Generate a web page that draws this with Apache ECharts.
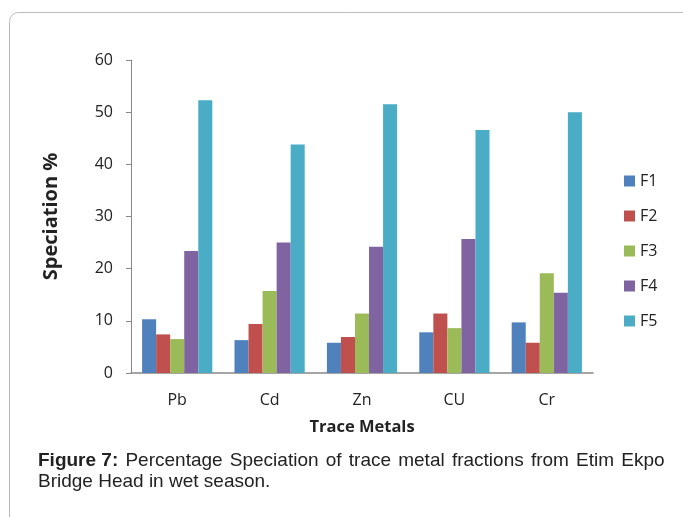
<!DOCTYPE html>
<html>
<head>
<meta charset="utf-8">
<script src="https://cdn.jsdelivr.net/npm/echarts@6/dist/echarts.min.js"></script>
<style>
html,body{margin:0;padding:0;background:#fff;}
#chart{width:683px;height:517px;}
</style>
</head>
<body>
<div id="chart"></div>
<script>
var categories = ['Pb', 'Cd', 'Zn', 'CU', 'Cr'];
var seriesNames = ['F1', 'F2', 'F3', 'F4', 'F5'];
var F1 = [10.3, 6.3, 5.8, 7.8, 9.7];
var F2 = [7.4, 9.4, 6.9, 11.4, 5.8];
var F3 = [6.5, 15.7, 11.4, 8.6, 19.1];
var F4 = [23.4, 25.0, 24.2, 25.7, 15.4];
var F5 = [52.3, 43.8, 51.5, 46.6, 50.0];
var yTicks = [0, 10, 20, 30, 40, 50, 60];
var colors = ['#4F81BD', '#C0504D', '#9BBB59', '#8064A2', '#4BACC6'];
var allValues = [F1, F2, F3, F4, F5];
var captionBold = 'Figure 7:';
var captionLine1 = 'Percentage Speciation of trace metal fractions from Etim Ekpo';
var captionLine2 = 'Bridge Head in wet season.';

var chart = echarts.init(document.getElementById('chart'));
var labelFont = '"Open Sans", "Noto Sans", sans-serif';
var series = seriesNames.map(function (n, i) {
  return {
    name: n,
    type: 'bar',
    data: allValues[i],
    barGap: '0%',
    barCategoryGap: '24%',
    itemStyle: { color: colors[i] }
  };
});

var line1 = '{b|' + captionBold + '}{s| }' + captionLine1.split(' ').map(function (w) { return '{n|' + w + '}'; }).join('{s| }');

chart.setOption({
  animation: false,
  color: colors,
  grid: { left: 131, right: 90, top: 60, bottom: 144 },
  legend: {
    orient: 'vertical',
    left: 619,
    top: 168,
    itemWidth: 11,
    itemHeight: 11,
    itemGap: 19,
    icon: 'rect',
    textStyle: { fontFamily: labelFont, fontSize: 16, color: '#222' },
    data: seriesNames
  },
  xAxis: {
    type: 'category',
    data: categories,
    name: 'Trace Metals',
    nameLocation: 'middle',
    nameGap: 46,
    nameTextStyle: { fontFamily: labelFont, fontSize: 16.5, fontWeight: 'bold', color: '#222' },
    axisLine: { lineStyle: { color: '#888', width: 1.5 } },
    axisTick: { show: false },
    axisLabel: { fontFamily: labelFont, fontSize: 16, color: '#222', margin: 19 }
  },
  yAxis: {
    type: 'value',
    min: yTicks[0],
    max: yTicks[yTicks.length - 1],
    interval: 10,
    name: 'Speciation %',
    nameLocation: 'middle',
    nameGap: 70,
    nameTextStyle: { fontFamily: labelFont, fontSize: 20, fontWeight: 'bold', color: '#222' },
    axisLine: { show: true, lineStyle: { color: '#888' } },
    axisTick: { show: true, inside: false, length: 5, lineStyle: { color: '#888' } },
    splitLine: { show: false },
    axisLabel: { fontFamily: labelFont, fontSize: 16, color: '#222', margin: 18 }
  },
  graphic: [
    {
      type: 'rect',
      shape: { x: 9.5, y: 12.5, width: 700, height: 520, r: 9 },
      style: { fill: 'none', stroke: '#bbb', lineWidth: 1 },
      z: -1
    },
    {
      type: 'text',
      left: 38,
      top: 451,
      style: {
        rich: {
          b: { fontFamily: 'Liberation Sans, Arial, sans-serif', fontSize: 19, fontWeight: 'bold', fill: '#222', lineHeight: 21 },
          n: { fontFamily: 'Liberation Sans, Arial, sans-serif', fontSize: 19, fill: '#222', lineHeight: 21 },
          s: { fontFamily: 'Liberation Sans, Arial, sans-serif', fontSize: 19, fill: '#222', lineHeight: 21, width: 7.2 }
        },
        text: line1 + '\n{n|' + captionLine2 + '}'
      }
    }
  ],
  series: series
});
</script>
</body>
</html>
